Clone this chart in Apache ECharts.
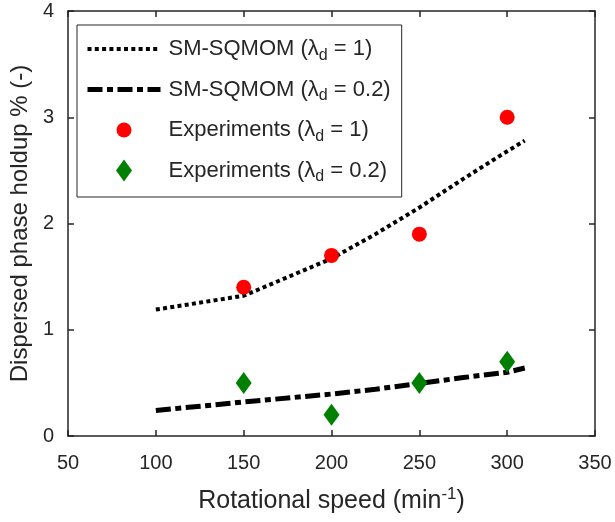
<!DOCTYPE html>
<html>
<head>
<meta charset="utf-8">
<script src="https://cdn.jsdelivr.net/npm/echarts@6/dist/echarts.min.js"></script>
<style>
  html, body { margin: 0; padding: 0; background: #fff; }
  #chart { width: 615px; height: 522px; }
</style>
</head>
<body>
<div id="chart"></div>
<script>
// Rotational speeds at which the model curves are evaluated (min^-1)
const modelSpeeds = [100, 150, 200, 225, 250, 275, 300, 310];
// SM-SQMOM holdup, lambda_d = 1 and lambda_d = 0.2 (%)
const modelHoldupL1 = [1.19, 1.32, 1.67, 1.90, 2.15, 2.42, 2.68, 2.78];
const modelHoldupL02 = [0.24, 0.32, 0.395, 0.44, 0.495, 0.55, 0.60, 0.64];

// Experimental points
const expSpeeds = [150, 200, 250, 300];
const expHoldupL1 = [1.4, 1.7, 1.9, 3.0];
const expHoldupL02 = [0.5, 0.2, 0.5, 0.7];

// Axis ranges and tick steps
const xRange = [50, 350], xStep = 50;
const yRange = [0, 4], yStep = 1;

const seriesNames = [
  'SM-SQMOM (λ{sub|d} = 1)',
  'SM-SQMOM (λ{sub|d} = 0.2)',
  'Experiments (λ{sub|d} = 1)',
  'Experiments (λ{sub|d} = 0.2)'
];

const pairs = (xs, ys) => xs.map((x, i) => [x, ys[i]]);

const FONT = '"Liberation Sans", Arial, Helvetica, sans-serif';
const INK = '#262626';

const dotted = [4, 3.3];
const dashDot = [15, 4.5, 6, 4.5];

const axisBase = {
  type: 'value',
  axisLine: { show: true, onZero: false, lineStyle: { color: INK, width: 1.5 } },
  axisTick: { show: true, inside: true, length: 6, lineStyle: { color: INK, width: 1.5 } },
  splitLine: { show: false }
};

const chart = echarts.init(document.getElementById('chart'), null, { renderer: 'canvas' });

chart.setOption({
  animation: false,
  backgroundColor: '#fff',
  textStyle: { fontFamily: FONT },
  grid: { left: 68, right: 20, top: 11, bottom: 86, containLabel: false },
  xAxis: [
    Object.assign({}, axisBase, {
      min: xRange[0], max: xRange[1], interval: xStep, position: 'bottom',
      axisLabel: { color: INK, fontSize: 20, fontFamily: FONT, margin: 17 },
      name: 'Rotational speed (min{sup|-1})',
      nameLocation: 'middle', nameGap: 50,
      nameTextStyle: {
        color: INK, fontSize: 25, fontFamily: FONT,
        rich: { sup: { fontSize: 17, fontFamily: FONT, color: INK, padding: [0, 0, 14, 0] } }
      }
    }),
    Object.assign({}, axisBase, {
      min: xRange[0], max: xRange[1], interval: xStep, position: 'top',
      axisLabel: { show: false }
    })
  ],
  yAxis: [
    Object.assign({}, axisBase, {
      min: yRange[0], max: yRange[1], interval: yStep, position: 'left',
      axisLabel: { color: INK, fontSize: 20, fontFamily: FONT, margin: 14 },
      name: 'Dispersed phase holdup % (-)',
      nameLocation: 'middle', nameGap: 34, nameRotate: 90,
      nameTextStyle: { color: INK, fontSize: 24, fontFamily: FONT }
    }),
    Object.assign({}, axisBase, {
      min: yRange[0], max: yRange[1], interval: yStep, position: 'right',
      axisLabel: { show: false }
    })
  ],
  legend: {
    orient: 'vertical',
    left: 77, top: 25,
    padding: [13, 11, 12, 8],
    itemWidth: 73, itemHeight: 22, itemGap: 15,
    borderColor: INK, borderWidth: 1, borderRadius: 0,
    backgroundColor: '#fff',
    selectedMode: false,
    textStyle: {
      color: INK, fontSize: 22, fontFamily: FONT, padding: [0, 0, 0, 3], lineHeight: 22,
      rich: { sub: { fontSize: 16, fontFamily: FONT, color: INK, padding: [13, 0, 0, 0] } }
    },
    data: [
      { name: seriesNames[0], itemStyle: { opacity: 0 },
        lineStyle: { color: '#000', width: 4, type: dotted, cap: 'butt' } },
      { name: seriesNames[1], itemStyle: { opacity: 0 },
        lineStyle: { color: '#000', width: 5, type: dashDot, cap: 'butt' } },
      { name: seriesNames[2],
        icon: 'path://M0,0M22,22M11,3.5A7.5,7.5,0,1,1,11,18.5A7.5,7.5,0,1,1,11,3.5Z' },
      { name: seriesNames[3], icon: 'path://M8,0L16,11L8,22L0,11Z' }
    ]
  },
  series: [
    {
      name: seriesNames[0], type: 'line', data: pairs(modelSpeeds, modelHoldupL1),
      symbol: 'none', z: 2,
      lineStyle: { color: '#000', width: 4, type: dotted, cap: 'butt' },
      itemStyle: { color: '#000' }
    },
    {
      name: seriesNames[1], type: 'line', data: pairs(modelSpeeds, modelHoldupL02),
      symbol: 'none', z: 2,
      lineStyle: { color: '#000', width: 5, type: dashDot, cap: 'butt' },
      itemStyle: { color: '#000' }
    },
    {
      name: seriesNames[2], type: 'scatter', data: pairs(expSpeeds, expHoldupL1),
      symbol: 'circle', symbolSize: 15, z: 3,
      itemStyle: { color: '#ff0000', opacity: 1 }
    },
    {
      name: seriesNames[3], type: 'scatter', data: pairs(expSpeeds, expHoldupL02),
      symbol: 'diamond', symbolSize: [16, 22], z: 3,
      itemStyle: { color: '#008000', opacity: 1 }
    }
  ]
});
</script>
</body>
</html>
